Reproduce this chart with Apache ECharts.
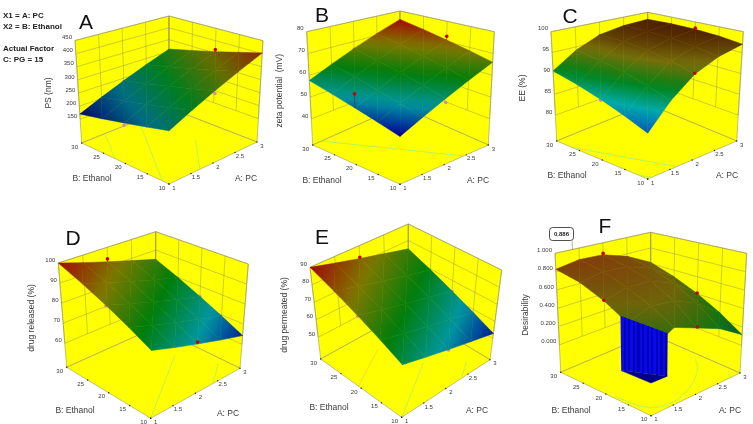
<!DOCTYPE html>
<html>
<head>
<meta charset="utf-8">
<style>
  html, body { margin: 0; padding: 0; background: #fff; }
  #main { width: 753px; height: 424px; }
</style>
</head>
<body>
<div id="main"></div>
<script src="https://cdn.jsdelivr.net/npm/echarts@6/dist/echarts.min.js"></script>
<script>
// factor levels, also the tick labels of the floor axes
const aTicks = [1, 1.5, 2, 2.5, 3]
const bTicks = [10, 15, 20, 25, 30]

// surfaces: one row per B tick (10 -> 30), one column per A tick (1 -> 3)
const surfaceA = [
  [242, 282, 322, 362, 403],
  [224, 263, 301, 340, 380],
  [206, 243, 281, 318, 356],
  [188, 224, 260, 297, 333],
  [170, 205, 240, 275, 310]
]
const surfaceB = [
  [48, 52.5, 57, 61.5, 66],
  [50.4, 54.9, 59.4, 63.9, 68.4],
  [52.8, 57.3, 61.8, 66.2, 70.7],
  [55.2, 59.7, 64.1, 68.6, 73.1],
  [57.6, 62, 66.5, 71, 75.4]
]
const surfaceC = [
  [83.9, 89.3, 93.5, 95.8, 97],
  [85.9, 91, 95, 96.8, 97.7],
  [87.7, 92.4, 96, 97.4, 98.1],
  [89.3, 93.4, 96.6, 97.7, 98.2],
  [90.6, 94.2, 96.7, 97.7, 98]
]
const surfaceD = [
  [78, 74.5, 71.1, 67.7, 64.3],
  [83.5, 80, 76.5, 73, 69.5],
  [89, 85.4, 81.8, 78.2, 74.7],
  [94.5, 90.8, 87.2, 83.5, 79.9],
  [100, 96.2, 92.5, 88.8, 85]
]
const surfaceE = [
  [66.4, 63, 59.6, 56.3, 52.9],
  [72.3, 68.8, 65.4, 61.9, 58.4],
  [78.2, 74.6, 71, 67.5, 63.9],
  [84.1, 80.4, 76.8, 73.1, 69.5],
  [90, 86.2, 82.5, 78.8, 75]
]
const surfaceF = [
  [0.3, 0.44, 0.36, 0.27, 0.116],
  [0.48, 0.58, 0.56, 0.46, 0.27],
  [0.63, 0.7, 0.7, 0.6, 0.405],
  [0.75, 0.8, 0.79, 0.7, 0.52],
  [0.825, 0.87, 0.86, 0.77, 0.616]
]

// design points [A, B, response]
const pointsA = [[2, 30, 236], [3, 20, 364], [2, 10, 312], [1, 20, 198]]
const pointsB = [[2, 30, 66], [3, 20, 72.5], [2, 10, 55.2], [1, 20, 59]]
const pointsC = [[2, 30, 96.4], [3, 20, 98.4], [2, 10, 93.7], [1, 20, 87.5]]
const pointsD = [[2, 30, 94], [3, 20, 74.5], [2, 10, 72], [1, 20, 88.7]]
const pointsE = [[2, 30, 83.2], [3, 20, 63.5], [2, 10, 59.4], [1, 20, 78]]
const pointsF = [[2, 30, 0.875], [3, 20, 0.41], [2, 10, 0.37], [1, 20, 0.635]]

// z tick labels
const zLabelsA = ['150', '200', '250', '300', '350', '400', '450']
const zLabelsB = ['40', '50', '60', '70', '80']
const zLabelsC = ['80', '85', '90', '95', '100']
const zLabelsD = ['60', '70', '80', '90', '100']
const zLabelsE = ['50', '60', '70', '80', '90']
const zLabelsF = ['0.000', '0.200', '0.400', '0.600', '0.800', '1.000']

// contour lines on the floor, as [A, B] runs
const contoursA = [[[1, 22.4], [1.53, 30]], [[1, 11.5], [2.3, 30]], [[1.7, 10], [2.4, 18]]]
const contoursB = [[[1.2, 30], [2.44, 10]]]
const contoursC = [[[1, 26.6], [1.65, 10]], [[1, 12], [1.09, 10]]]
const contoursD = [[[1, 10], [2.58, 21]], [[2.4, 10], [2.86, 13.7]]]
const contoursE = [[[1, 10], [2.19, 17.6]], [[2.36, 10], [2.7, 12.6]], [[1, 20.7], [1.9, 25.6]]]
const contoursF = [
  [[1.06, 18.6], [1.14, 12.7], [1.47, 10.8], [1.99, 11.8], [2.57, 15.3], [2.86, 18.6]],
  [[2.92, 11.8], [2.78, 10]]
]

// panel F: where the desirability drops to 0 near the front corner
const cliffEdgeF = [[1, 16.5], [1.36, 10]]
const cliffTopF = [0.53, 0.405]

const fontName = 'Liberation Sans'
const gridColor = '#9a9a55'
const contourColor = '#8fe88f'
const palette = [[0, 0, 150], [0, 150, 160], [0, 125, 10], [125, 120, 0], [160, 10, 0]]
const paletteA = [[0, 10, 110], [0, 110, 130], [0, 125, 30], [100, 110, 0], [140, 40, 0]]
const paletteC = [[0, 90, 190], [0, 170, 170], [0, 130, 20], [120, 110, 10], [75, 25, 0]]
const paletteF = [[0, 0, 100], [0, 80, 90], [20, 115, 15], [110, 100, 10], [130, 60, 10]]

// box corners on the page: F front, R right, L left, K back, floor then top
const panels = [
  {
    name: 'A', title: 'PS (nm)', surface: surfaceA, points: pointsA, zLabels: zLabelsA, contours: contoursA,
    zFloor: 60, zTop: 450, colorRange: [170, 403], colors: paletteA,
    floor: { F: [169, 184], R: [257, 142], L: [81.7, 143], K: [169, 108] },
    top: { F: [169, 70], R: [263, 40.7], L: [75, 40.5], K: [169, 16] },
    letterAt: [86, 23], titleAt: [48.5, 93], bAt: [92, 179], aAt: [246, 179]
  },
  {
    name: 'B', title: 'zeta potential  (mV)', surface: surfaceB, points: pointsB, zLabels: zLabelsB, contours: contoursB,
    zFloor: 28, zTop: 80, colorRange: [48, 75.4], colors: palette,
    floor: { F: [400, 184.3], R: [488.3, 145], L: [312.7, 145], K: [400, 106] },
    top: { F: [400, 60], R: [494.3, 31.7], L: [306.7, 31.7], K: [400, 11] },
    letterAt: [322, 16], titleAt: [280, 90.7], bAt: [322, 181], aAt: [478, 181]
  },
  {
    name: 'C', title: 'EE (%)', surface: surfaceC, points: pointsC, zLabels: zLabelsC, contours: contoursC,
    zFloor: 73.8, zTop: 100, colorRange: [83.9, 98.4], colors: paletteC,
    floor: { F: [647.7, 179], R: [736.7, 141], L: [556.7, 141], K: [647.7, 104] },
    top: { F: [647.7, 60], R: [743.3, 31.7], L: [551, 31.7], K: [647.7, 12.3] },
    letterAt: [570, 17], titleAt: [523, 88], bAt: [567, 175.7], aAt: [727, 175.7]
  },
  {
    name: 'D', title: 'drug released (%)', surface: surfaceD, points: pointsD, zLabels: zLabelsD, contours: contoursD,
    zFloor: 48, zTop: 100, colorRange: [62, 100], colors: palette,
    floor: { F: [150.7, 418.3], R: [240, 368.3], L: [66.7, 367.3], K: [155.7, 327.3] },
    top: { F: [152, 300.7], R: [248.3, 264], L: [58.3, 263], K: [155.7, 231.7] },
    letterAt: [73, 239], titleAt: [32, 318], bAt: [75, 411], aAt: [228, 414]
  },
  {
    name: 'E', title: 'drug permeated (%)', surface: surfaceE, points: pointsE, zLabels: zLabelsE, contours: contoursE,
    zFloor: 37.6, zTop: 90, colorRange: [51, 90], colors: palette,
    floor: { F: [401.7, 417.3], R: [490, 359.7], L: [320.7, 359], K: [408.3, 310.7] },
    top: { F: [403, 321.7], R: [501.7, 270], L: [310, 267.3], K: [408.3, 224] },
    letterAt: [322, 238], titleAt: [285, 315], bAt: [329, 408], aAt: [477, 411]
  },
  {
    name: 'F', title: 'Desirability', surface: surfaceF, points: pointsF, zLabels: zLabelsF, contours: contoursF,
    zFloor: -0.3, zTop: 1, colorRange: [-0.3, 0.886], colors: paletteF, cliff: true,
    floor: { F: [651, 415.7], R: [740, 373], L: [560.7, 372.3], K: [650.7, 334] },
    top: { F: [651, 274], R: [746.7, 253.3], L: [555, 253.3], K: [650.7, 232.3] },
    letterAt: [605, 227], titleAt: [526, 315], bAt: [571, 411], aAt: [730, 411]
  }
]

const legendLines = [['X1 = A: PC', 16], ['X2 = B: Ethanol', 27], ['Actual Factor', 49], ['C: PG = 15', 60]]

// box coords to page pixels, blending the eight corners
function project (p, a, b, z) {
  let u = (a - 1) / 2
  let v = (b - 10) / 20
  let w = (z - p.zFloor) / (p.zTop - p.zFloor)
  let out = [0, 1].map(i => {
    let low = (1 - v) * ((1 - u) * p.floor.F[i] + u * p.floor.R[i]) + v * ((1 - u) * p.floor.L[i] + u * p.floor.K[i])
    let high = (1 - v) * ((1 - u) * p.top.F[i] + u * p.top.R[i]) + v * ((1 - u) * p.top.L[i] + u * p.top.K[i])
    return low * (1 - w) + high * w
  })
  return out
}

function colorAt (colors, t) {
  t = Math.max(0, Math.min(1, t)) * (colors.length - 1)
  let i = Math.min(colors.length - 2, Math.floor(t))
  let f = t - i
  let c = colors[i].map((v, k) => Math.round(v + (colors[i + 1][k] - v) * f))
  return `rgb(${c[0]},${c[1]},${c[2]})`
}

// cut a triangle of [a, b, z] with the cliff line, keep the side away from the front corner
function clipCliff (poly) {
  let [p0, p1] = cliffEdgeF
  let side = q => (p1[0] - p0[0]) * (q[1] - p0[1]) - (p1[1] - p0[1]) * (q[0] - p0[0])
  let sign = side([1, 10]) > 0 ? -1 : 1
  let out = []
  poly.forEach((q, i) => {
    let next = poly[(i + 1) % poly.length]
    let d0 = side(q) * sign
    let d1 = side(next) * sign
    if (d0 >= 0) out.push(q)
    if (d0 * d1 < 0) {
      let f = d0 / (d0 - d1)
      out.push(q.map((v, k) => v + (next[k] - v) * f))
    }
  })
  return out
}

function surfaceFill (p, poly, pts) {
  let [lo, hi] = p.colorRange
  let zs = poly.map(q => q[2])
  let z0 = Math.min(...zs)
  let z1 = Math.max(...zs)
  let t = z => (z - lo) / (hi - lo)
  let x1 = pts[1][0] - pts[0][0], y1 = pts[1][1] - pts[0][1], d1 = zs[1] - zs[0]
  let x2 = pts[2][0] - pts[0][0], y2 = pts[2][1] - pts[0][1], d2 = zs[2] - zs[0]
  let det = x1 * y2 - x2 * y1
  let gx = det ? (d1 * y2 - d2 * y1) / det : 0
  let gy = det ? (x1 * d2 - x2 * d1) / det : 0
  let n = gx * gx + gy * gy
  if (!n || z1 - z0 < 1e-6) return colorAt(p.colors, t(z0))
  let start = (z0 - zs[0]) / n
  let end = (z1 - zs[0]) / n
  let stops = [0, 0.25, 0.5, 0.75, 1].map(s => ({ offset: s, color: colorAt(p.colors, t(z0 + (z1 - z0) * s)) }))
  return new echarts.graphic.LinearGradient(
    pts[0][0] + gx * start, pts[0][1] + gy * start,
    pts[0][0] + gx * end, pts[0][1] + gy * end,
    stops, true)
}

function renderPanel (p, api) {
  let kids = []
  let page = (a, b, z) => api.coord(project(p, a, b, z))
  let flat = xy => api.coord(xy)
  let line = (from, to, color, width) => kids.push({
    type: 'line',
    shape: { x1: from[0], y1: from[1], x2: to[0], y2: to[1] },
    style: { stroke: color, lineWidth: width }
  })
  let text = (str, at, opts) => kids.push({
    type: 'text',
    x: at[0],
    y: at[1],
    rotation: opts.rotation || 0,
    style: Object.assign({
      text: str, fontFamily: fontName, fill: '#3a3a3a', align: 'center', verticalAlign: 'middle'
    }, opts.style)
  })

  // walls and floor
  let zTicks = p.zLabels.map(Number)
  let zLow = zTicks[0]
  let wall = pts => kids.push({
    type: 'polygon',
    shape: { points: pts },
    style: { fill: '#ffff00', stroke: gridColor, lineWidth: 0.6 }
  })
  wall([page(1, 30, p.zFloor), page(3, 30, p.zFloor), page(3, 30, p.zTop), page(1, 30, p.zTop)])
  wall([page(3, 30, p.zFloor), page(3, 10, p.zFloor), page(3, 10, p.zTop), page(3, 30, p.zTop)])
  wall([page(1, 10, p.zFloor), page(3, 10, p.zFloor), page(3, 30, p.zFloor), page(1, 30, p.zFloor)])

  zTicks.forEach(z => {
    line(page(1, 30, z), page(3, 30, z), gridColor, 0.5)
    line(page(3, 30, z), page(3, 10, z), gridColor, 0.5)
  })
  aTicks.forEach(a => line(page(a, 30, zLow), page(a, 30, p.zTop), gridColor, 0.5))
  bTicks.forEach(b => line(page(3, b, zLow), page(3, b, p.zTop), gridColor, 0.5))

  // contours on the floor
  p.contours.forEach((run, i) => {
    kids.push({
      type: 'polyline',
      shape: { points: run.map(q => page(q[0], q[1], p.zFloor)), smooth: run.length > 2 ? 0.4 : 0 },
      style: { stroke: p.name === 'E' && i === 2 ? '#f2c04a' : contourColor, lineWidth: 0.6, fill: 'none' }
    })
  })

  // floor axes
  aTicks.forEach(a => {
    let at = page(a, 10, p.zFloor)
    kids.push({ type: 'circle', shape: { cx: at[0], cy: at[1], r: 0.7 }, style: { fill: '#222' } })
    text(String(a), [at[0] + 5, at[1] + 4], { style: { fontSize: 6, align: 'center' } })
  })
  bTicks.forEach(b => {
    let at = page(1, b, p.zFloor)
    kids.push({ type: 'circle', shape: { cx: at[0], cy: at[1], r: 0.7 }, style: { fill: '#222' } })
    text(String(b), [at[0] - 7, at[1] + 4], { style: { fontSize: 6, align: 'center' } })
  })
  p.zLabels.forEach(label => {
    let at = page(1, 30, Number(label))
    text(label, [at[0] - 3, at[1] - 3], { style: { fontSize: 6, align: 'right' } })
  })

  // design points under the surface come first, the ones above get a stem
  let nodeZ = (a, b) => p.surface[bTicks.indexOf(b)][aTicks.indexOf(a)]
  let dot = (q, color) => {
    let at = page(q[0], q[1], q[2])
    kids.push({ type: 'circle', shape: { cx: at[0], cy: at[1], r: 1.8 }, style: { fill: color } })
  }
  let isBelow = q => q[2] < nodeZ(q[0], q[1])
  p.points.filter(isBelow).forEach(q => dot(q, '#e08a9a'))

  // surface, back cells first, each cell split in two flat triangles
  for (let i = bTicks.length - 2; i >= 0; i--) {
    for (let j = aTicks.length - 2; j >= 0; j--) {
      let node = (r, c) => [aTicks[c], bTicks[r], p.surface[r][c]]
      let tris = [
        [node(i + 1, j + 1), node(i + 1, j), node(i, j)],
        [node(i + 1, j + 1), node(i, j), node(i, j + 1)]
      ]
      tris.forEach(tri => {
        let poly = p.cliff ? clipCliff(tri) : tri
        if (poly.length < 3) return
        let pts = poly.map(q => page(q[0], q[1], q[2]))
        let fill = surfaceFill(p, poly, pts)
        kids.push({ type: 'polygon', shape: { points: pts }, style: { fill, stroke: fill, lineWidth: 0.5 } })
      })
    }
  }

  // the drop to zero on panel F
  if (p.cliff) {
    let [e0, e1] = cliffEdgeF
    let bottom0 = page(e0[0], e0[1], 0)
    let bottom1 = page(e1[0], e1[1], 0)
    kids.push({
      type: 'polygon',
      shape: { points: [bottom0, page(1, 10, 0), bottom1] },
      style: { fill: '#00008a', stroke: '#00008a', lineWidth: 0.5 }
    })
    let stops = []
    for (let s = 0; s < 20; s++) {
      stops.push({ offset: s / 20, color: s % 2 ? '#0000b8' : '#0808e8' })
      stops.push({ offset: (s + 1) / 20, color: s % 2 ? '#0000b8' : '#0808e8' })
    }
    kids.push({
      type: 'polygon',
      shape: { points: [page(e0[0], e0[1], cliffTopF[0]), page(e1[0], e1[1], cliffTopF[1]), bottom1, bottom0] },
      style: { fill: new echarts.graphic.LinearGradient(bottom0[0], 0, bottom1[0], 0, stops, true) }
    })
  }

  p.points.filter(q => !isBelow(q)).forEach(q => {
    line(page(q[0], q[1], q[2]), page(q[0], q[1], nodeZ(q[0], q[1])), '#5a1010', 0.5)
    dot(q, '#c80000')
  })

  // titles
  text(p.name, flat(p.letterAt), { style: { fontSize: 21, fill: '#111' } })
  text(p.title, flat(p.titleAt), { rotation: Math.PI / 2, style: { fontSize: 8.5 } })
  text('B: Ethanol', flat(p.bAt), { style: { fontSize: 8.5 } })
  text('A: PC', flat(p.aAt), { style: { fontSize: 8.5 } })

  if (p.name === 'F') {
    line(flat([572, 240.7]), flat([572.5, 250]), gridColor, 0.7)
    kids.push({
      type: 'rect',
      shape: { x: 549.5, y: 227.5, width: 24, height: 13, r: 3 },
      style: { fill: '#fff', stroke: '#222', lineWidth: 0.8 }
    })
    text('0.886', flat([561.5, 234]), { style: { fontSize: 6, fontWeight: 'bold', fill: '#222' } })
  }

  return { type: 'group', children: kids }
}

let chart = echarts.init(document.getElementById('main'), null, { renderer: 'canvas' })
let series = panels.map(p => ({
  type: 'custom',
  name: p.name,
  coordinateSystem: 'cartesian2d',
  clip: false,
  silent: true,
  animation: false,
  data: [[0, 0]],
  renderItem: (params, api) => renderPanel(p, api)
}))
series.push({
  type: 'custom',
  name: 'factors',
  coordinateSystem: 'cartesian2d',
  silent: true,
  animation: false,
  data: legendLines.map((l, i) => [0, i]),
  renderItem: (params, api) => {
    let l = legendLines[params.dataIndex]
    let at = api.coord([3, l[1]])
    return {
      type: 'text',
      x: at[0],
      y: at[1],
      style: {
        text: l[0], fontFamily: fontName, fontSize: 8, fontWeight: 'bold', fill: '#222',
        align: 'left', verticalAlign: 'middle'
      }
    }
  }
})

chart.setOption({
  animation: false,
  backgroundColor: '#fff',
  grid: { left: 0, right: 0, top: 0, bottom: 0 },
  xAxis: { type: 'value', min: 0, max: 753, show: false },
  yAxis: { type: 'value', min: 0, max: 424, inverse: true, show: false },
  series
})
</script>
</body>
</html>
